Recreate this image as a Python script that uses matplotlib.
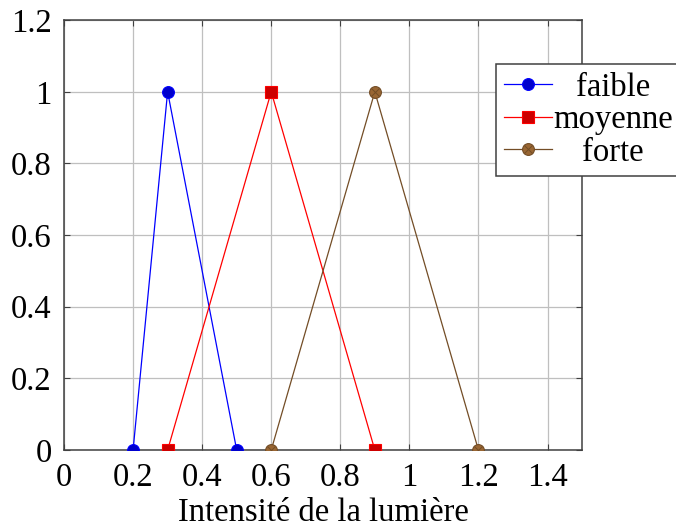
import matplotlib
matplotlib.use("Agg")
import matplotlib.pyplot as plt

plt.rcParams["font.family"] = ["Liberation Serif", "DejaVu Serif"]
plt.rcParams["font.size"] = 23.5

# membership functions (x, y)
faible_x = [0.2, 0.3, 0.5]
faible_y = [0, 1, 0]
moyenne_x = [0.3, 0.6, 0.9]
moyenne_y = [0, 1, 0]
forte_x = [0.6, 0.9, 1.2]
forte_y = [0, 1, 0]
labels = ["faible", "moyenne", "forte"]
xticks = [0, 0.2, 0.4, 0.6, 0.8, 1, 1.2, 1.4]
yticks = [0, 0.2, 0.4, 0.6, 0.8, 1, 1.2]

blue = (0, 0, 1)
red = (1, 0, 0)
brown = (0.45, 0.3, 0.15)

fig = plt.figure(figsize=(6.76, 5.29), dpi=100)
ax = fig.add_axes([0.0947, 0.1493, 0.7663, 0.8127])

h1, = ax.plot(faible_x, faible_y, color=blue, lw=0.9, marker="o", ms=8.5,
              mfc=(0, 0, 0.8), mec=blue, mew=0.8, zorder=3)
h2, = ax.plot(moyenne_x, moyenne_y, color=red, lw=0.9, marker="s", ms=8,
              mfc=(0.8, 0, 0), mec=red, mew=0.8, zorder=3)
h3, = ax.plot(forte_x, forte_y, color=brown, lw=0.9, marker="o", ms=8.5,
              mfc=(0.6, 0.4, 0.2), mec=brown, mew=0.8, zorder=3)
h3x, = ax.plot(forte_x, forte_y, ls="none", marker="x", ms=5.5,
               mec=brown, mew=0.7, zorder=4)

ax.set_xlim(0, 1.5)
ax.set_ylim(0, 1.2)
ax.set_xticks(xticks)
ax.set_xticklabels([f"{v:g}" for v in xticks])
ax.set_yticks(yticks)
ax.set_yticklabels([f"{v:g}" for v in yticks])
ax.grid(True, color=(0.75, 0.75, 0.75), lw=0.9)
ax.set_axisbelow(True)
for s in ax.spines.values():
    s.set_color((0.25, 0.25, 0.25))
    s.set_linewidth(1.1)
ax.tick_params(direction="in", length=4, width=0.8, color=(0.25, 0.25, 0.25),
               top=True, right=True, pad=9)
ax.set_xlabel("Intensité de la lumière", labelpad=3)

leg = ax.legend([h1, h2, (h3, h3x)], labels, loc="upper left",
                bbox_to_anchor=(0.734, 0.879), bbox_transform=fig.transFigure,
                borderaxespad=0, fancybox=False, framealpha=1,
                edgecolor=(0.25, 0.25, 0.25), handlelength=1.45,
                handletextpad=0.05, labelspacing=0.06, borderpad=0.25)
leg.get_frame().set_linewidth(1.1)

# centre the legend labels like pgfplots does
fig.canvas.draw()
r = fig.canvas.get_renderer()
widths = [t.get_window_extent(r).width for t in leg.get_texts()]
wmax = max(widths)
for t, w in zip(leg.get_texts(), widths):
    t.set_x((wmax - w) / 2)

fig.savefig("out.png", dpi=100)
